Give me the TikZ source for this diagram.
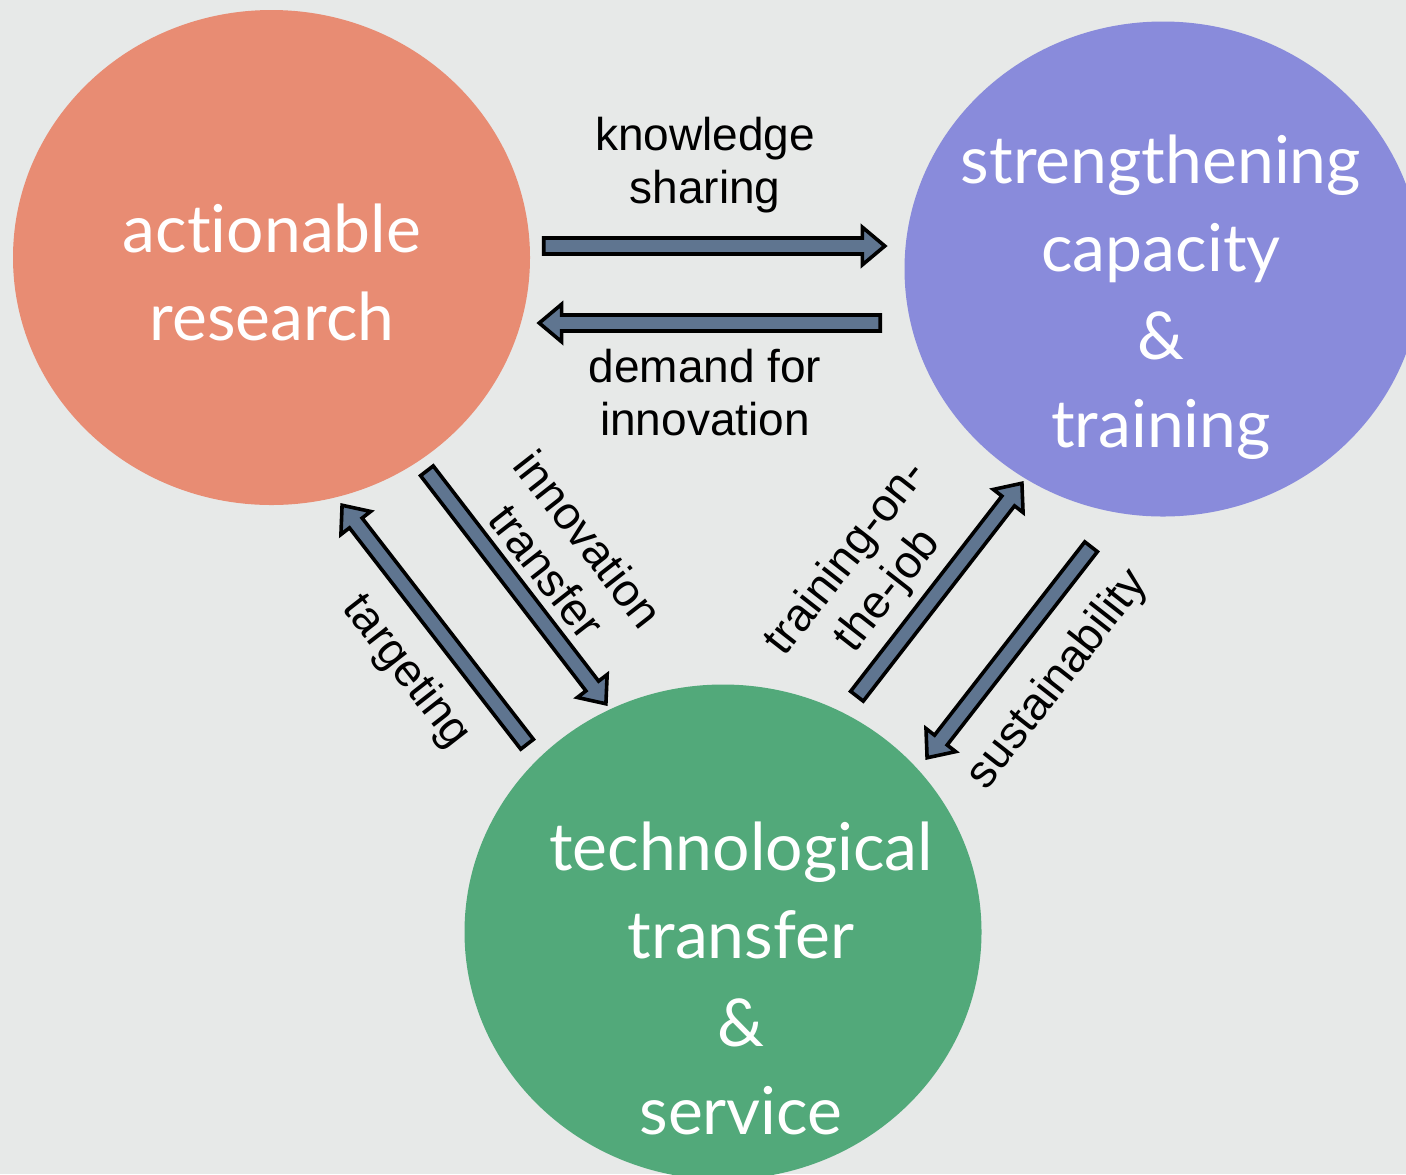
\documentclass[tikz,border=0pt]{standalone}
\usepackage{fontspec}
\setmainfont{Liberation Sans}
\newfontfamily\circfont[Ligatures=NoCommon]{Lato}
\usetikzlibrary{shapes.geometric,shapes.arrows,calc}
\definecolor{bgc}{HTML}{E7E9E8}
\definecolor{redc}{HTML}{E88C73}
\definecolor{purc}{HTML}{898BDB}
\definecolor{grnc}{HTML}{52A97A}
\definecolor{arrc}{HTML}{5F7590}
\newcommand\blockarrow[2]{%
  \path let \p1=($(#2)-(#1)$), \n1={atan2(\y1,\x1)}, \n2={veclen(\x1,\y1)} in
    node[barrow, rotate=\n1, minimum height=\n2] at ($(#1)!0.5!(#2)$) {};}
\begin{document}
\begin{tikzpicture}[x=0.5pt,y=-0.5pt,
  circ/.style={ellipse, minimum width=258.5pt, minimum height=247.5pt, inner sep=0pt, outer sep=0pt},
  ctext/.style={text=white, font=\circfont\fontsize{33}{44}\selectfont, align=center, inner sep=0pt},
  lbl/.style={font=\fontsize{23}{26.5}\selectfont, align=center, inner sep=0pt},
  barrow/.style={single arrow, draw=black, line width=1.8pt, fill=arrc, inner xsep=0pt, inner ysep=3.1pt,
    single arrow head extend=5.4pt, single arrow tip angle=80, single arrow head indent=0pt, anchor=center}
]
\fill[bgc] (0,0) rectangle (1406,1174);
\useasboundingbox (0,0) rectangle (1406,1174);
\begin{scope}
\clip (0,0) rectangle (1406,1174);
\node[circ, fill=redc] (ar) at (271.5,257.5) {};
\node[circ, fill=purc] (sc) at (1163,269) {};
\node[circ, fill=grnc] (tt) at (723,932) {};
\end{scope}

\node[ctext] (arT) at (272,272) {actionable\\research};
\node[ctext] (scT) at (1161,297) {strengthening\\capacity\\\&\\training};
\node[ctext] (ttT) at (741,978) {technological\\transfer\\\&\\service};

% arrow end points
\coordinate (ks1) at (539,246);  \coordinate (ks2) at (880,246);
\coordinate (di1) at (885,323);  \coordinate (di2) at (544,323);
\coordinate (it1) at (424,467);  \coordinate (it2) at (603,700);
\coordinate (tg1) at (530,748);  \coordinate (tg2) at (345,509);
\coordinate (tj1) at (854,700);  \coordinate (tj2) at (1019,487);
\coordinate (su1) at (1094,543); \coordinate (su2) at (930,754);

\blockarrow{ks1}{ks2}
\blockarrow{di1}{di2}
\blockarrow{it1}{it2}
\blockarrow{tg1}{tg2}
\blockarrow{tj1}{tj2}
\blockarrow{su1}{su2}

\node[lbl] (lks) at (705,165) {knowledge\\sharing};
\node[lbl] (ldi) at (705,393) {demand for\\innovation};
\node[lbl, rotate=-52] (lit) at (568,555) {innovation\\transfer};
\node[lbl, rotate=-52] (ltg) at (406,672) {targeting};
\node[lbl, rotate=52] (ltj) at (868,575) {training-on-\\the-job};
\node[lbl, rotate=52] (lsu) at (1058,680) {sustainability};
\end{tikzpicture}
\end{document}
